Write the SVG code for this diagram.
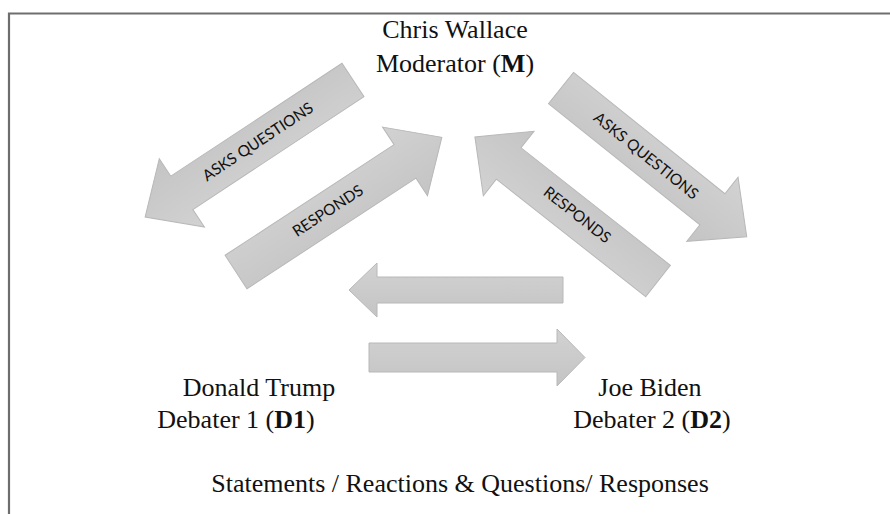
<svg xmlns="http://www.w3.org/2000/svg" width="890" height="514" viewBox="0 0 890 514">
<style>
.frame{fill:none;stroke:#6e6e6e;stroke-width:2.2}
.arrow{fill:url(#g);stroke:#b8b8b8;stroke-width:1}
.lbl{font-family:Lato,"Open Sans","Liberation Sans",sans-serif;font-size:15.5px;fill:#111;text-anchor:middle}
.name{font-family:"Liberation Serif","Times New Roman",serif;font-size:26px;fill:#111;text-anchor:middle}
.name tspan.b{font-weight:bold}
</style>
<defs>
  <linearGradient id="g" x1="0" y1="0" x2="0" y2="1">
    <stop offset="0" stop-color="#d2d2d2"/>
    <stop offset="1" stop-color="#c4c4c4"/>
  </linearGradient>
</defs>
<rect width="890" height="514" fill="#fff"/>
<path class="frame" d="M9,514 V13.5 H890"/>
<g id="connectors">
  <g id="m-asks-d1">
    <path class="arrow" transform="translate(353,80) rotate(146.6)" d="M0,-20 H205 V-41 L249,0 L205,41 V20 H0 Z"/>
    <text class="lbl" transform="translate(258,142) rotate(-33.4)" dy="5">ASKS QUESTIONS</text>
  </g>
  <g id="d1-responds-m">
    <path class="arrow" transform="translate(236,272) rotate(-33.2)" d="M0,-20 H202 V-41 L246,0 L202,41 V20 H0 Z"/>
    <text class="lbl" transform="translate(328,211) rotate(-33.2)" dy="5">RESPONDS</text>
  </g>
  <g id="d2-responds-m">
    <path class="arrow" transform="translate(658,281) rotate(-141.8)" d="M0,-20 H190 V-41 L233,0 L190,41 V20 H0 Z"/>
    <text class="lbl" transform="translate(577,215) rotate(38.2)" dy="5">RESPONDS</text>
  </g>
  <g id="m-asks-d2">
    <path class="arrow" transform="translate(561,88) rotate(38.7)" d="M0,-20 H194 V-41 L238,0 L194,41 V20 H0 Z"/>
    <text class="lbl" transform="translate(646,156) rotate(38.7)" dy="5">ASKS QUESTIONS</text>
  </g>
  <path id="d2-to-d1" class="arrow" d="M563,277 H377 V263 L349,290 L377,317 V303 H563 Z"/>
  <path id="d1-to-d2" class="arrow" d="M369,343 H557 V329 L585,357.5 L557,386 V372 H369 Z"/>
</g>
<g id="moderator">
  <text class="name" x="455" y="38">Chris Wallace</text>
  <text class="name" x="455" y="72">Moderator (<tspan class="b">M</tspan>)</text>
</g>
<g id="debater1">
  <text class="name" x="259" y="396">Donald Trump</text>
  <text class="name" x="236" y="428">Debater 1 (<tspan class="b">D1</tspan>)</text>
</g>
<g id="debater2">
  <text class="name" x="650" y="396">Joe Biden</text>
  <text class="name" x="652" y="428">Debater 2 (<tspan class="b">D2</tspan>)</text>
</g>
<g id="caption">
  <text class="name" x="460" y="492">Statements / Reactions &amp; Questions/ Responses</text>
</g>
</svg>
